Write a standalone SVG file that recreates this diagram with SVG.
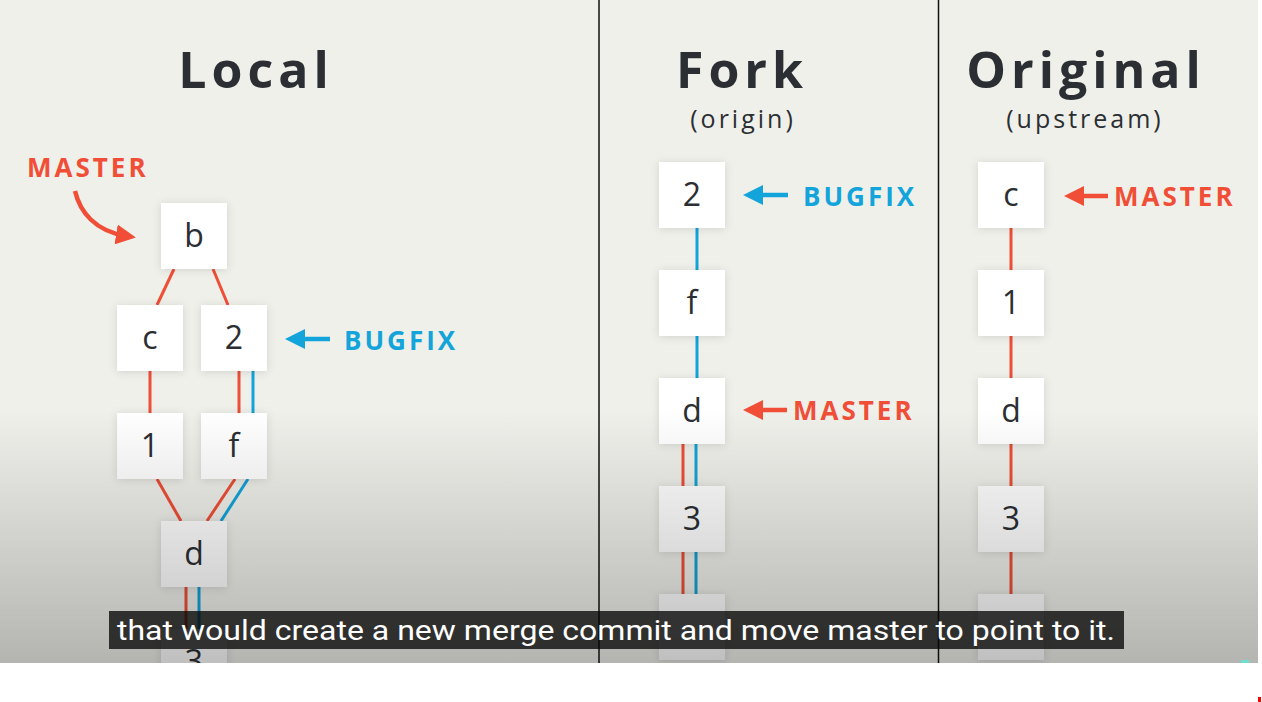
<svg xmlns="http://www.w3.org/2000/svg" width="1262" height="702" viewBox="0 0 1262 702">
<defs>
<linearGradient id="shade" x1="0" y1="410" x2="0" y2="663" gradientUnits="userSpaceOnUse">
<stop offset="0" stop-color="#000" stop-opacity="0"/>
<stop offset="1" stop-color="#000" stop-opacity="0.25"/>
</linearGradient>
<filter id="sh" x="-30%" y="-30%" width="160%" height="160%">
<feDropShadow dx="0" dy="1" stdDeviation="4" flood-color="#000" flood-opacity="0.13"/>
</filter>
<marker id="hr" viewBox="0 0 20 20" refX="10" refY="10" markerWidth="20" markerHeight="20" markerUnits="userSpaceOnUse" orient="auto">
<path d="M0,0 L20,10 L0,20 z" fill="#f04e37"/>
</marker>
<marker id="hb" viewBox="0 0 20 20" refX="10" refY="10" markerWidth="20" markerHeight="20" markerUnits="userSpaceOnUse" orient="auto">
<path d="M0,0 L20,10 L0,20 z" fill="#12a4da"/>
</marker>
<style>
.node rect{fill:#fff;filter:url(#sh)}
.node text{font-family:"Open Sans","DejaVu Sans",sans-serif;font-size:32px;fill:#2b2e33;text-anchor:middle}
.title{font-family:"Open Sans","DejaVu Sans",sans-serif;font-weight:bold;font-size:50px;fill:#2b2f33;text-anchor:middle;letter-spacing:5px}
.sub{font-family:"Open Sans","DejaVu Sans",sans-serif;font-size:25px;fill:#2b2f33;text-anchor:middle;letter-spacing:3px}
.lbl{font-family:"Open Sans","DejaVu Sans",sans-serif;font-weight:bold;font-size:26px;letter-spacing:3px}
.red{fill:#f04e37}
.blue{fill:#12a4da}
.er{stroke:#ef4f36;stroke-width:3;fill:none}
.eb{stroke:#12a4da;stroke-width:3;fill:none}
.ar{stroke:#f04e37;stroke-width:4.5;fill:none}
.ab{stroke:#12a4da;stroke-width:4.5;fill:none}
.div{stroke:#111;stroke-width:1.5}
</style>
</defs>
<rect x="0" y="0" width="1262" height="702" fill="#f0f0eb"/>
<line class="div" x1="599" y1="0" x2="599" y2="663"/>
<line class="div" x1="938.5" y1="0" x2="938.5" y2="663"/>

<text class="title" x="256" y="88">Local</text>
<text class="title" x="742" y="88">Fork</text>
<text class="sub" x="743" y="128">(origin)</text>
<text class="title" x="1086" y="88">Original</text>
<text class="sub" x="1085" y="128">(upstream)</text>

<g id="connectors">
<line class="er" x1="174" y1="269" x2="157" y2="305"/>
<line class="er" x1="213" y1="269" x2="228" y2="305"/>
<line class="er" x1="150" y1="371" x2="150" y2="413"/>
<line class="er" x1="239" y1="371" x2="239" y2="413"/>
<line class="eb" x1="253" y1="371" x2="253" y2="413"/>
<line class="er" x1="157" y1="479" x2="181" y2="521"/>
<line class="er" x1="235" y1="479" x2="207" y2="521"/>
<line class="eb" x1="248" y1="479" x2="221" y2="521"/>
<line class="er" x1="186" y1="587" x2="186" y2="629"/>
<line class="eb" x1="199" y1="587" x2="199" y2="629"/>

<line class="eb" x1="697" y1="228" x2="697" y2="270"/>
<line class="eb" x1="697" y1="336" x2="697" y2="378"/>
<line class="er" x1="683" y1="444" x2="683" y2="486"/>
<line class="eb" x1="696" y1="444" x2="696" y2="486"/>
<line class="er" x1="683" y1="552" x2="683" y2="594"/>
<line class="eb" x1="696" y1="552" x2="696" y2="594"/>

<line class="er" x1="1011" y1="228" x2="1011" y2="270"/>
<line class="er" x1="1011" y1="336" x2="1011" y2="378"/>
<line class="er" x1="1011" y1="444" x2="1011" y2="486"/>
<line class="er" x1="1011" y1="552" x2="1011" y2="594"/>

<path class="ar" d="M75,191 C80,212 95,231 126,236" marker-end="url(#hr)"/>
<line class="ab" x1="330" y1="339" x2="295" y2="339" marker-end="url(#hb)"/>
<line class="ab" x1="788" y1="195" x2="753" y2="195" marker-end="url(#hb)"/>
<line class="ar" x1="787" y1="410" x2="753" y2="410" marker-end="url(#hr)"/>
<line class="ar" x1="1108" y1="196" x2="1074" y2="196" marker-end="url(#hr)"/>
</g>

<g id="n-local-b" class="node"><rect x="161" y="203" width="66" height="66"/><text x="194" y="247">b</text></g>
<g id="n-local-c" class="node"><rect x="117" y="305" width="66" height="66"/><text x="150" y="349">c</text></g>
<g id="n-local-2" class="node"><rect x="201" y="305" width="66" height="66"/><text x="234" y="349">2</text></g>
<g id="n-local-1" class="node"><rect x="117" y="413" width="66" height="66"/><text x="150" y="457">1</text></g>
<g id="n-local-f" class="node"><rect x="201" y="413" width="66" height="66"/><text x="234" y="457">f</text></g>
<g id="n-local-d" class="node"><rect x="161" y="521" width="66" height="66"/><text x="194" y="565">d</text></g>
<g id="n-local-3" class="node"><rect x="161" y="629" width="66" height="66"/><text x="194" y="673">3</text></g>

<g id="n-fork-2" class="node"><rect x="659" y="162" width="66" height="66"/><text x="692" y="206">2</text></g>
<g id="n-fork-f" class="node"><rect x="659" y="270" width="66" height="66"/><text x="692" y="314">f</text></g>
<g id="n-fork-d" class="node"><rect x="659" y="378" width="66" height="66"/><text x="692" y="422">d</text></g>
<g id="n-fork-3" class="node"><rect x="659" y="486" width="66" height="66"/><text x="692" y="530">3</text></g>
<g id="n-fork-5" class="node"><rect x="659" y="594" width="66" height="66"/></g>

<g id="n-orig-c" class="node"><rect x="978" y="162" width="66" height="66"/><text x="1011" y="206">c</text></g>
<g id="n-orig-1" class="node"><rect x="978" y="270" width="66" height="66"/><text x="1011" y="314">1</text></g>
<g id="n-orig-d" class="node"><rect x="978" y="378" width="66" height="66"/><text x="1011" y="422">d</text></g>
<g id="n-orig-3" class="node"><rect x="978" y="486" width="66" height="66"/><text x="1011" y="530">3</text></g>
<g id="n-orig-5" class="node"><rect x="978" y="594" width="66" height="66"/></g>

<g id="labels">
<text class="lbl red" x="27" y="177">MASTER</text>
<text class="lbl blue" x="344" y="350">BUGFIX</text>
<text class="lbl blue" x="803" y="206">BUGFIX</text>
<text class="lbl red" x="793" y="420">MASTER</text>
<text class="lbl red" x="1114" y="206">MASTER</text>
</g>

<rect x="0" y="410" width="1258" height="253" fill="url(#shade)"/>

<g id="caption">
<rect x="109" y="611" width="1015" height="38" fill="#080808" fill-opacity="0.78"/>
<text x="117" y="640" textLength="998" lengthAdjust="spacingAndGlyphs" font-family="Roboto,'Liberation Sans',sans-serif" font-size="28" fill="#fff">that would create a new merge commit and move master to point to it.</text>
</g>

<rect x="0" y="663" width="1262" height="39" fill="#fff"/>
<rect x="1258" y="0" width="4" height="663" fill="#fff"/>
<rect x="1241" y="660" width="8" height="3" fill="#6ee0d0"/>
<rect x="1258" y="697" width="3" height="5" fill="#f00"/>
</svg>
